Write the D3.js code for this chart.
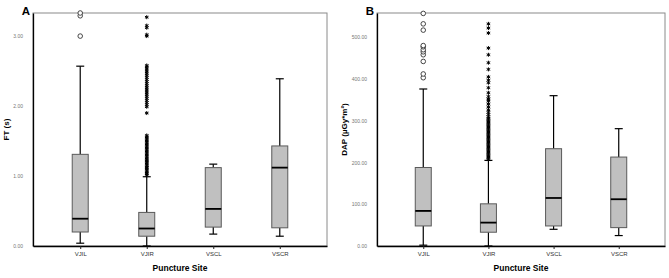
<!DOCTYPE html>
<html>
<head>
<meta charset="utf-8">
<script src="https://cdn.jsdelivr.net/npm/d3@7"></script>
<style>
    body { margin: 0; background: #fff; }
    svg { display: block; font-family: "Liberation Sans", Arial, sans-serif; }
</style>
</head>
<body>
<div id="chart"></div>
<script>
const categories = ["VJIL", "VJIR", "VSCL", "VSCR"];

// [low whisker, Q1, median, Q3, high whisker]
const ftBoxes = [
    [0.04, 0.20, 0.39, 1.31, 2.57],
    [0.00, 0.14, 0.25, 0.48, 0.99],
    [0.17, 0.27, 0.53, 1.12, 1.17],
    [0.14, 0.26, 1.12, 1.43, 2.39]
];
const ftCircles = [[3.00, 3.29, 3.33], [], [], []];
const ftStars = [[], [
    1.01, 1.03, 1.04, 1.06, 1.08, 1.10, 1.12, 1.13, 1.15, 1.17, 1.19, 1.21, 1.22, 1.24,
    1.26, 1.28, 1.30, 1.32, 1.34, 1.36, 1.38, 1.40, 1.42, 1.44, 1.46, 1.48, 1.50, 1.52,
    1.54, 1.56, 1.58, 1.90, 1.99, 2.02, 2.05, 2.08, 2.11, 2.14, 2.17, 2.20, 2.23, 2.26,
    2.29, 2.32, 2.35, 2.38, 2.41, 2.44, 2.47, 2.50, 2.53, 2.56, 2.58, 3.00, 3.02, 3.12,
    3.15, 3.27
], [], []];
const ftTicks = [0, 1, 2, 3];

const dapBoxes = [
    [2, 48, 84, 188, 376],
    [0, 33, 56, 101, 205],
    [40, 48, 115, 233, 360],
    [25, 44, 112, 213, 281]
];
const dapCircles = [[403, 412, 442, 458, 465, 470, 477, 480, 517, 532, 557], [], [], []];
const dapStars = [[], [
    207, 210, 213, 216, 219, 222, 225, 228, 231, 234, 237, 240, 243, 246, 249, 252, 255,
    258, 261, 264, 267, 270, 273, 276, 279, 282, 285, 288, 291, 294, 297, 300, 303, 306,
    310, 315, 320, 326, 333, 340, 347, 352, 358, 367, 379, 391, 397, 405, 423, 439, 458,
    474, 510, 522, 532
], [], []];
const dapTicks = [0, 100, 200, 300, 400, 500];

const width = 669, height = 278;
const svg = d3.select("#chart").append("svg")
    .attr("width", width)
    .attr("height", height);

drawPanel({
    letter: "A", yLabel: "FT (s)", labelOffset: 24,
    left: 33, right: 327, top: 13, bottom: 246,
    yMax: 3.33, ticks: ftTicks,
    boxes: ftBoxes, circles: ftCircles, stars: ftStars
});
drawPanel({
    letter: "B", yLabel: "DAP (\u00b5Gy*m\u00b2)", labelOffset: 30,
    left: 377, right: 665, top: 13, bottom: 246,
    yMax: 558, ticks: dapTicks,
    boxes: dapBoxes, circles: dapCircles, stars: dapStars
});

function drawPanel(p) {
    let x = d3.scalePoint().domain(categories).range([p.left, p.right]).padding(0.71);
    let y = d3.scaleLinear().domain([0, p.yMax]).range([p.bottom, p.top]);
    let g = svg.append("g");
    let boxW = 16, capW = 8;

    g.append("rect")
        .attr("x", p.left).attr("y", p.top)
        .attr("width", p.right - p.left).attr("height", p.bottom - p.top)
        .attr("fill", "none").attr("stroke", "#8a8a8a").attr("stroke-width", 1);

    // axes
    let yAxis = g.append("g")
        .attr("transform", `translate(${p.left},0)`)
        .call(d3.axisLeft(y).tickValues(p.ticks).tickSize(0).tickPadding(10)
            .tickFormat(d3.format(".2f")));
    yAxis.select(".domain").attr("stroke", "#000").attr("stroke-width", 1.3);
    yAxis.selectAll("text").attr("font-size", 5).attr("fill", "#777");

    let xAxis = g.append("g")
        .attr("transform", `translate(0,${p.bottom})`)
        .call(d3.axisBottom(x).tickSize(3).tickPadding(3).tickSizeOuter(0));
    xAxis.select(".domain").attr("stroke", "#000").attr("stroke-width", 1.3);
    xAxis.selectAll("line").attr("stroke", "#222");
    xAxis.selectAll("text").attr("font-size", 6).attr("fill", "#333");

    // boxes
    categories.forEach((c, i) => {
        let [lo, q1, med, q3, hi] = p.boxes[i];
        let cx = x(c);
        let bg = g.append("g");
        bg.append("line")
            .attr("x1", cx).attr("x2", cx).attr("y1", y(hi)).attr("y2", y(q3))
            .attr("stroke", "#000").attr("stroke-width", 1.2);
        bg.append("line")
            .attr("x1", cx).attr("x2", cx).attr("y1", y(q1)).attr("y2", y(lo))
            .attr("stroke", "#000").attr("stroke-width", 1.2);
        [hi, lo].forEach(v => bg.append("line")
            .attr("x1", cx - capW / 2).attr("x2", cx + capW / 2)
            .attr("y1", y(v)).attr("y2", y(v))
            .attr("stroke", "#000").attr("stroke-width", 1.2));
        bg.append("rect")
            .attr("x", cx - boxW / 2).attr("y", y(q3))
            .attr("width", boxW).attr("height", y(q1) - y(q3))
            .attr("fill", "#c0c0c0").attr("stroke", "#5a5a5a").attr("stroke-width", 1);
        bg.append("line")
            .attr("x1", cx - boxW / 2).attr("x2", cx + boxW / 2)
            .attr("y1", y(med)).attr("y2", y(med))
            .attr("stroke", "#000").attr("stroke-width", 1.8);

        for (let v of p.circles[i]) {
            bg.append("circle")
                .attr("cx", cx).attr("cy", y(v)).attr("r", 2.3)
                .attr("fill", "#fff").attr("stroke", "#333").attr("stroke-width", 0.9);
        }
        for (let v of p.stars[i]) {
            bg.append("path")
                .attr("transform", `translate(${cx},${y(v)})`)
                .attr("d", "M0,-2V2M-1.8,-1L1.8,1M-1.8,1L1.8,-1")
                .attr("stroke", "#000").attr("stroke-width", 1);
        }
    });

    // labels
    g.append("text")
        .attr("x", p.left - 3).attr("y", p.top + 2)
        .attr("text-anchor", "end")
        .attr("font-size", 11.5).attr("font-weight", "bold")
        .text(p.letter);
    g.append("text")
        .attr("x", (p.left + p.right) / 2).attr("y", 271)
        .attr("text-anchor", "middle")
        .attr("font-size", 8.5).attr("font-weight", "bold")
        .text("Puncture Site");
    g.append("text")
        .attr("transform", `translate(${p.left - p.labelOffset},${(p.top + p.bottom) / 2}) rotate(-90)`)
        .attr("text-anchor", "middle")
        .attr("font-size", 8).attr("font-weight", "bold")
        .text(p.yLabel);
}
</script>
</body>
</html>
